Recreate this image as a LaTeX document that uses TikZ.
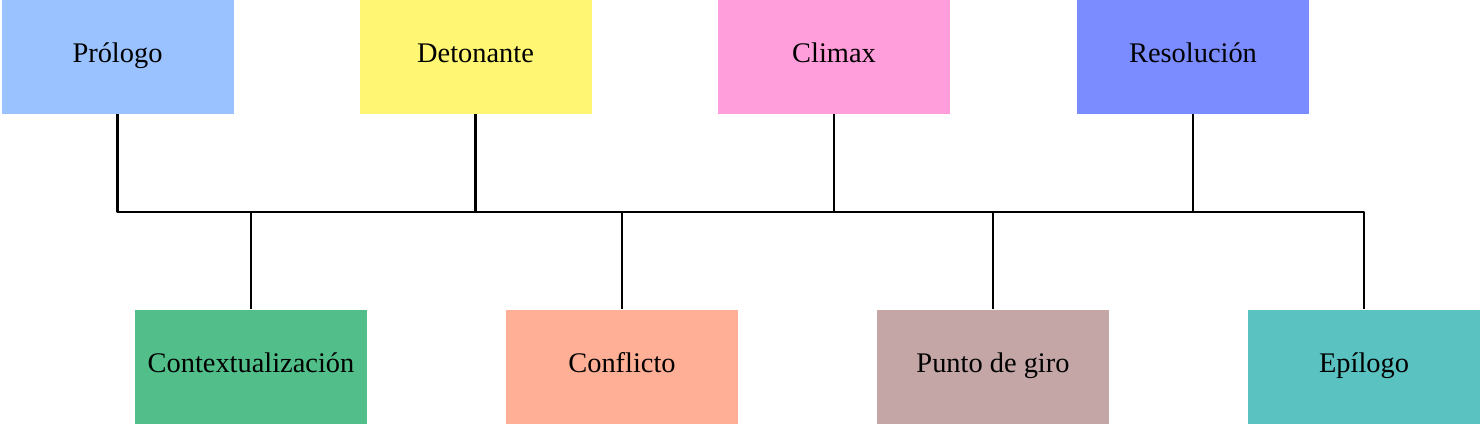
\documentclass[tikz,border=0pt]{standalone}
\usepackage{fontspec}
\setmainfont{Liberation Serif}
\usepackage{tikz}
\usetikzlibrary{positioning, calc}
\definecolor{prologoBg}{HTML}{99C2FF}
\definecolor{detonanteBg}{HTML}{FFF773}
\definecolor{climaxBg}{HTML}{FF9EDA}
\definecolor{resolucionBg}{HTML}{7A8CFF}
\definecolor{contextoBg}{HTML}{52BF8A}
\definecolor{conflictoBg}{HTML}{FFAF95}
\definecolor{giroBg}{HTML}{C4A6A6}
\definecolor{epilogoBg}{HTML}{5BC2C2}
\tikzstyle{line} = [line width=2.8pt, line join=round, black]
\tikzstyle{stage} = [rectangle, minimum width=232pt, minimum height=114pt, text centered, draw=none, text=black, font=\fontsize{28.4}{34}\selectfont, inner sep=0pt, text height=20pt, text depth=8pt]

\begin{document}
\begin{tikzpicture}[x=1pt, y=-1pt, node distance=0mm]
\useasboundingbox (0,0) rectangle (1482,444);

\node (prologo) [stage, fill=prologoBg] at (117.5,57) {Prólogo};
\node (detonante) [stage, fill=detonanteBg, xshift=358pt] at(prologo) {Detonante};
\node (climax) [stage, fill=climaxBg, xshift=358.5pt] at(detonante) {Climax};
\node (resolucion) [stage, fill=resolucionBg, xshift=359pt] at(climax) {Resolución};

\node (contexto) [stage, fill=contextoBg] at (251,366.5) {Contextualización};
\node (conflicto) [stage, fill=conflictoBg, xshift=371pt] at(contexto) {Conflicto};
\node (giro) [stage, fill=giroBg, xshift=371pt] at(conflicto) {Punto de giro};
\node (epilogo) [stage, fill=epilogoBg, xshift=371pt] at(giro) {Epílogo};

\coordinate (bus) at (0,212);

\draw [line] (prologo.south) -- (prologo.south |- bus) -- (epilogo.north |- bus) -- (epilogo.north);
\draw [line] (detonante.south) -- (detonante.south |- bus);
\draw [line] (climax.south) -- (climax.south |- bus);
\draw [line] (resolucion.south) -- (resolucion.south |- bus);
\draw [line] (contexto.north) -- (contexto.north |- bus);
\draw [line] (conflicto.north) -- (conflicto.north |- bus);
\draw [line] (giro.north) -- (giro.north |- bus);

\end{tikzpicture}
\end{document}
